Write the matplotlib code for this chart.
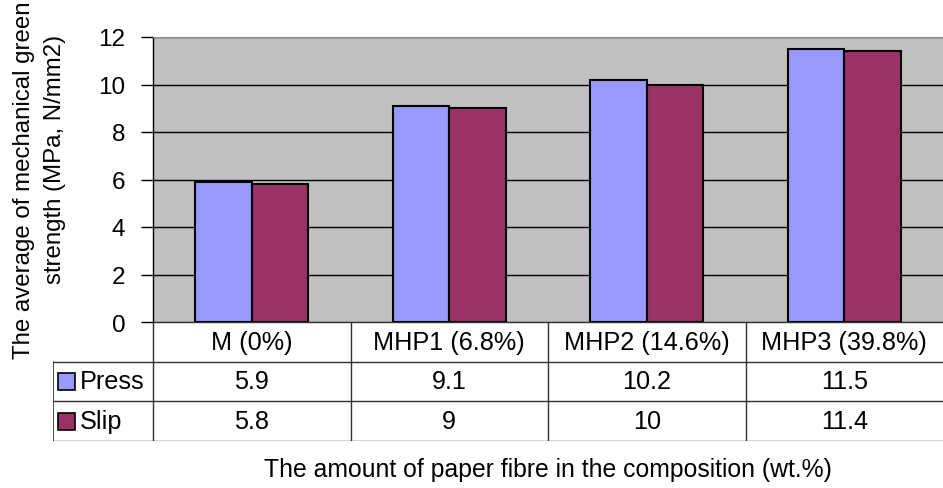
import numpy as np
import matplotlib.pyplot as plt
from matplotlib.patches import Rectangle

plt.rcParams['font.family'] = ['Liberation Sans', 'DejaVu Sans']

categories = ['M (0%)', 'MHP1 (6.8%)', 'MHP2 (14.6%)', 'MHP3 (39.8%)']
series_names = ['Press', 'Slip']
press = [5.9, 9.1, 10.2, 11.5]
slip = [5.8, 9, 10, 11.4]
yticks = [0, 2, 4, 6, 8, 10, 12]

colors = ['#9999FF', '#993366']
W, H = 943, 489
fs = 18.2
fig = plt.figure(figsize=(W / 100, H / 100), dpi=100)

# pixel frame of the plot area and the data table
left, right, top, bottom = 153, 943, 38, 323
tab_left, tab_bottom = 53, 442
unit = (right - left) / len(categories)

ax = fig.add_axes([left / W, 1 - bottom / H, (right - left) / W, (bottom - top) / H])
ax.set_facecolor('#C0C0C0')
x = np.arange(len(categories))
bw = 1 / 3.5
ax.bar(x - bw / 2, press, bw, color=colors[0], edgecolor='black', linewidth=1.5, zorder=3)
ax.bar(x + bw / 2, slip, bw, color=colors[1], edgecolor='black', linewidth=1.5, zorder=3)
ax.set_xlim(-0.5, len(categories) - 0.5)
ax.set_ylim(0, 12)
ax.set_yticks(yticks)
ax.tick_params(axis='y', labelsize=17.5, length=9, width=1, pad=11)
ax.set_xticks([])
ax.grid(axis='y', color='black', linewidth=1, zorder=1)
for s in ['right', 'bottom']:
    ax.spines[s].set_visible(False)
ax.spines['top'].set_color('#909090')
ax.spines['left'].set_linewidth(1)

# two-line rotated axis title
for xp, yp, line in [(24, 180, 'The average of mechanical green'),
                     (55, 159, 'strength (MPa, N/mm2)')]:
    fig.text(xp / W, 1 - yp / H, line, rotation=90,
             ha='center', va='center', fontsize=17.3)

# data table under the bars
tab = fig.add_axes([tab_left / W, 1 - tab_bottom / H, (right - tab_left) / W,
                    (tab_bottom - bottom) / H])
x0 = -0.5 - (left - tab_left) / unit
tab.set_xlim(x0, len(categories) - 0.5)
tab.set_ylim(3, 0)
tab.axis('off')
lc = '#303030'
tab.plot([-0.5, 3.5], [0, 0], color=lc, lw=1)
for yy in [1, 2, 3]:
    tab.plot([x0, 3.5], [yy, yy], color=lc, lw=1)
tab.plot([-0.5, -0.5], [0, 3], color=lc, lw=1)
tab.plot([x0, x0], [1, 3], color=lc, lw=1.2)
for xx in [0.5, 1.5, 2.5]:
    tab.plot([xx, xx], [0, 3], color=lc, lw=1)

row_px = (tab_bottom - bottom) / 3
for i, c in enumerate(categories):
    tab.text(i, 0.5, c, ha='center', va='center', fontsize=fs)
for r, vals in enumerate([press, slip]):
    for i, v in enumerate(vals):
        tab.text(i, r + 1.5, f'{v:g}', ha='center', va='center', fontsize=fs)
    sq = 17 / row_px
    tab.add_patch(Rectangle((x0 + 5 / unit, r + 1.5 - sq / 2), 17 / unit, sq,
                            facecolor=colors[r], edgecolor='black', lw=1.2))
    tab.text(x0 + 27 / unit, r + 1.5, series_names[r], ha='left', va='center', fontsize=fs)

fig.text(548 / W, 1 - 470 / H, 'The amount of paper fibre in the composition (wt.%)',
         ha='center', va='center', fontsize=17.8)

fig.savefig('out.png', dpi=100)
